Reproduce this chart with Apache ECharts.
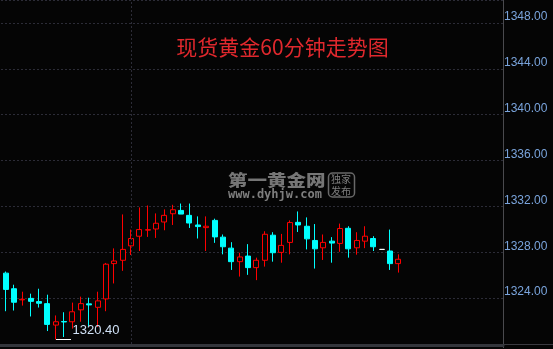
<!DOCTYPE html>
<html>
<head>
<meta charset="utf-8">
<script src="https://cdn.jsdelivr.net/npm/echarts@6/dist/echarts.min.js"></script>
<style>
html,body{margin:0;padding:0;background:#050505;overflow:hidden;width:553px;height:349px;}
#c{width:560px;height:349px;margin-left:-7px;}
</style>
</head>
<body>
<div id="c"></div>
<script>
// [open, close, low, high]
const ohlc = [
  [1326.72, 1326.20, 1325.90, 1327.00],
  [1326.18, 1324.76, 1322.86, 1326.32],
  [1324.82, 1323.64, 1322.92, 1325.17],
  [1323.85, 1323.90, 1323.35, 1324.56],
  [1323.98, 1323.72, 1322.40, 1324.39],
  [1323.70, 1323.55, 1323.18, 1324.82],
  [1323.52, 1321.71, 1321.13, 1324.30],
  [1321.65, 1321.94, 1320.40, 1322.49],
  [1321.96, 1321.92, 1320.61, 1322.77],
  [1321.94, 1322.81, 1321.34, 1323.61],
  [1322.98, 1323.52, 1321.94, 1324.13],
  [1323.50, 1323.41, 1321.56, 1324.04],
  [1323.20, 1323.76, 1321.48, 1324.56],
  [1323.93, 1326.96, 1322.86, 1327.07],
  [1327.01, 1327.24, 1325.28, 1328.34],
  [1327.30, 1328.25, 1326.38, 1331.30],
  [1328.56, 1329.20, 1327.76, 1329.98],
  [1329.40, 1329.98, 1328.11, 1331.91],
  [1329.93, 1329.97, 1329.34, 1332.08],
  [1330.03, 1330.53, 1329.25, 1331.39],
  [1330.64, 1331.22, 1329.92, 1331.74],
  [1331.36, 1331.71, 1330.38, 1332.14],
  [1331.65, 1331.33, 1331.33, 1332.25],
  [1331.22, 1330.55, 1330.12, 1332.25],
  [1330.38, 1330.24, 1329.20, 1331.13],
  [1330.15, 1330.27, 1328.11, 1331.13],
  [1330.78, 1329.34, 1328.82, 1330.93],
  [1329.32, 1328.48, 1327.82, 1329.55],
  [1328.36, 1327.18, 1326.46, 1328.88],
  [1327.18, 1327.59, 1325.88, 1327.96],
  [1327.67, 1326.66, 1326.03, 1328.71],
  [1326.66, 1327.30, 1325.57, 1327.53],
  [1327.30, 1329.57, 1326.75, 1329.83],
  [1329.49, 1327.96, 1327.18, 1329.75],
  [1327.99, 1328.60, 1327.09, 1329.60],
  [1328.86, 1330.59, 1327.82, 1330.78],
  [1330.61, 1330.38, 1329.77, 1331.56],
  [1330.27, 1329.17, 1328.25, 1331.04],
  [1329.03, 1328.30, 1326.58, 1330.46],
  [1328.39, 1328.86, 1327.33, 1329.55],
  [1328.97, 1328.80, 1327.09, 1329.32],
  [1328.77, 1330.07, 1328.04, 1330.50],
  [1330.09, 1328.30, 1327.53, 1330.27],
  [1328.39, 1329.03, 1327.79, 1329.75],
  [1328.97, 1329.40, 1328.36, 1330.27],
  [1329.20, 1328.48, 1328.11, 1329.40],
  [1328.25, 1328.25, 1328.25, 1328.25],
  [1328.11, 1327.01, 1326.46, 1329.98],
  [1327.01, 1327.39, 1326.23, 1327.82]
];
const totalSlots = 61;              // visible hourly slots (rest empty, future)
const separatorIndex = 16;          // session separator
const lowLabel = '1320.40';
const titleText = '现货黄金60分钟走势图';
const yMin = 1320, yMax = 1350, yStep = 4;

const categories = [];
for (let i = 0; i < totalSlots; i++) categories.push(String(i));
const seriesData = ohlc.slice();
while (seriesData.length < totalSlots) seriesData.push('-');

let lowIdx = 0;
ohlc.forEach((d, i) => { if (d[2] < ohlc[lowIdx][2]) lowIdx = i; });

const OX = 7; // chart canvas is shifted 7px left of the page
const chart = echarts.init(document.getElementById('c'), null, {renderer: 'canvas'});
const BG = '#050505';
const GRID = '#2c2c37';

chart.setOption({
  backgroundColor: BG,
  animation: false,
  grid: {left: 0, right: 50, top: -3, bottom: 5, containLabel: false},
  xAxis: {
    type: 'category',
    data: categories,
    boundaryGap: true,
    offset: 1,
    axisLine: {show: true, lineStyle: {color: '#34363c', width: 3}},
    axisTick: {show: false},
    axisLabel: {show: false},
    splitLine: {show: false}
  },
  yAxis: {
    type: 'value',
    position: 'right',
    min: yMin, max: yMax, interval: yStep,
    axisLine: {show: true, lineStyle: {color: '#4a4a4e', width: 1}},
    axisTick: {show: false},
    axisLabel: {
      show: true, showMinLabel: false, showMaxLabel: false,
      margin: 1,
      color: '#7aa4dc',
      fontFamily: 'Liberation Sans',
      fontSize: 12,
      lineHeight: 12,
      verticalAlign: 'bottom',
      formatter: v => v.toFixed(2)
    },
    splitLine: {show: true, lineStyle: {color: GRID, type: [2, 2], width: 1}}
  },
  series: [{
    type: 'candlestick',
    data: seriesData,
    barWidth: 5.5,
    itemStyle: {
      color: BG,
      color0: '#00ffff',
      borderColor: '#ff0000',
      borderColor0: '#00ffff',
      borderColorDoji: '#ffffff',
      borderWidth: 1
    },
    markLine: {
      silent: true,
      symbol: ['none', 'none'],
      label: {show: false},
      lineStyle: {color: GRID, type: [2, 2], width: 1},
      data: [{xAxis: String(separatorIndex)}]
    }
  }]
});

const lowPt = chart.convertToPixel({gridIndex: 0}, [String(lowIdx), ohlc[lowIdx][2]]);
const lx = Math.round(lowPt[0]) + 0.5, ly = Math.round(lowPt[1]) + 0.5;

chart.setOption({
  graphic: [
    // title
    {type: 'text', x: 282.5 + OX, y: 47, silent: true,
     style: {text: titleText, fill: '#e0282d', font: '21px "Noto Sans CJK SC"', textAlign: 'center', textVerticalAlign: 'middle'}},
    // watermark
    {type: 'text', x: 228 + OX, y: 180, scaleY: 0.8, silent: true,
     style: {text: '第一黄金网', fill: '#767676', font: '900 19.5px "Noto Sans CJK SC"', textAlign: 'left', textVerticalAlign: 'middle'}},
    {type: 'text', x: 228 + OX, y: 195, silent: true,
     style: {text: 'www.dyhjw.com', fill: '#7e7e7e', font: 'bold 12px "DejaVu Sans Mono"', textAlign: 'left', textVerticalAlign: 'middle'}},
    {type: 'rect', shape: {x: 328.5 + OX, y: 173, width: 26, height: 24, r: 4}, silent: true,
     style: {fill: 'none', stroke: '#686868', lineWidth: 1.5}},
    {type: 'text', x: 331 + OX, y: 179.5, silent: true,
     style: {text: '独家', fill: '#7e7e7e', font: '10px "Noto Sans CJK SC"', textAlign: 'left', textVerticalAlign: 'middle'}},
    {type: 'text', x: 331 + OX, y: 191, silent: true,
     style: {text: '发布', fill: '#7e7e7e', font: '10px "Noto Sans CJK SC"', textAlign: 'left', textVerticalAlign: 'middle'}},
    // axis area bottom line
    {type: 'line', shape: {x1: 503 + OX, y1: 344.5, x2: 553 + OX, y2: 344.5}, silent: true,
     style: {stroke: '#3a3a40', lineWidth: 1}},
    {type: 'line', shape: {x1: 503.5 + OX, y1: 340, x2: 503.5 + OX, y2: 348}, silent: true,
     style: {stroke: '#4a4a4e', lineWidth: 1}},
    // lowest price marker
    {type: 'line', shape: {x1: lx - 0.5, y1: ly, x2: lx + 14.5, y2: ly}, silent: true, z: 100,
     style: {stroke: '#ffffff', lineWidth: 1}},
    {type: 'text', x: lx + 16, y: ly - 9.5, silent: true, z: 100,
     style: {text: lowLabel, fill: '#cfe0f5', font: '13px "Liberation Sans"', textAlign: 'left', textVerticalAlign: 'middle'}}
  ]
});
</script>
</body>
</html>
